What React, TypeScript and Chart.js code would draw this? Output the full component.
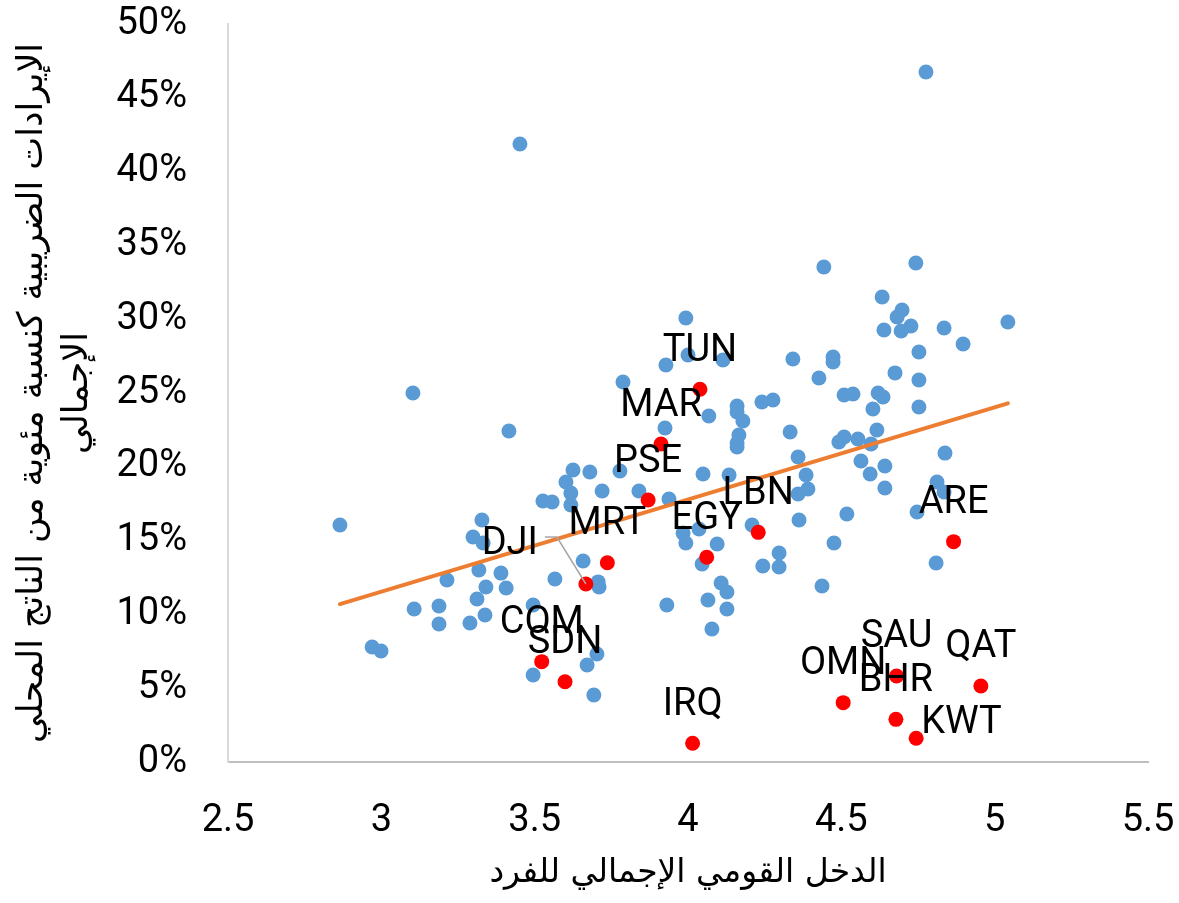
import React, { useEffect, useRef } from 'react';
import { Chart, registerables } from 'chart.js';

Chart.register(...registerables);

// Blue points: GNI per capita (log) vs tax revenue (% of GDP)
const blueX = [
  2.865, 2.970, 2.999, 3.103, 3.107, 3.188, 3.188, 3.214, 3.289, 3.299, 3.312, 3.318, 3.328, 3.332, 3.338, 3.341,
  3.390, 3.407, 3.416, 3.452, 3.495, 3.495, 3.527, 3.557, 3.566, 3.602, 3.618, 3.625, 3.618, 3.658, 3.671, 3.680,
  3.693, 3.703, 3.707, 3.710, 3.720,
  3.778, 3.788, 3.840, 3.925, 3.928, 3.938, 3.993, 4.000, 3.984, 3.993, 3.931, 4.036, 4.046, 4.049, 4.068, 4.065,
  4.078, 4.095, 4.108, 4.114, 4.127, 4.127, 4.134, 4.160, 4.160, 4.179, 4.166, 4.160, 4.160, 4.209, 4.241, 4.244,
  4.277, 4.297, 4.297,
  4.333, 4.342, 4.359, 4.362, 4.359, 4.385, 4.391, 4.427, 4.437, 4.443, 4.473, 4.473, 4.476, 4.509, 4.538, 4.492,
  4.509, 4.518, 4.554, 4.564, 4.597, 4.594, 4.603, 4.616, 4.620, 4.636, 4.633, 4.639, 4.642, 4.642, 4.675, 4.682,
  4.698, 4.695, 4.727, 4.743, 4.753, 4.753, 4.753, 4.747, 4.776, 4.812, 4.835, 4.809, 4.835, 4.838, 4.897, 5.043,
];
const blueY = [
  16.06, 7.79, 7.52, 25.0, 10.37, 10.57, 9.35, 12.33, 9.42, 15.24, 11.04, 13.01, 16.40, 14.84, 9.96, 11.86,
  12.80, 11.79, 22.43, 41.87, 10.64, 5.89, 17.68, 17.62, 12.40, 18.97, 18.22, 19.78, 17.41, 13.62, 6.57, 19.65,
  4.54, 7.32, 12.20, 11.86, 18.36,
  19.72, 25.75, 18.36, 22.63, 26.90, 17.82, 30.08, 27.57, 15.51, 14.84, 10.64, 15.79, 13.41, 19.51, 23.44, 10.98,
  9.01, 14.77, 12.13, 27.24, 11.52, 10.37, 19.44, 24.12, 23.71, 23.10, 22.15, 21.61, 21.34, 16.06, 24.39, 13.28,
  24.53, 14.16, 13.21,
  22.36, 27.30, 20.66, 16.40, 18.16, 19.44, 18.50, 26.02, 11.92, 33.54, 27.44, 27.10, 14.84, 24.86, 24.93, 21.68,
  22.02, 16.80, 21.88, 20.39, 21.54, 19.51, 23.92, 22.49, 25.00, 24.73, 31.50, 29.27, 20.05, 18.56, 26.36, 30.15,
  30.62, 29.20, 29.54, 33.81, 27.78, 25.88, 24.05, 16.94, 46.75, 18.97, 18.29, 13.48, 29.40, 20.93, 28.32, 29.81,
];

// Arab countries (red)
const redCodes = ['TUN', 'MAR', 'PSE', 'MRT', 'DJI', 'EGY', 'LBN', 'ARE', 'COM', 'SDN', 'IRQ', 'OMN', 'SAU', 'BHR', 'KWT', 'QAT'];
const redX = [4.039, 3.912, 3.870, 3.737, 3.667, 4.061, 4.229, 4.866, 3.523, 3.599, 4.015, 4.506, 4.680, 4.678, 4.744, 4.955];
const redY = [25.25, 21.54, 17.75, 13.50, 12.06, 13.87, 15.56, 14.93, 6.80, 5.44, 1.27, 4.02, 5.83, 2.89, 1.61, 5.15];

// Linear trend line end points
const trendX = [2.865, 5.043];
const trendY = [10.7, 24.3];

const xTitle = 'الدخل القومي الإجمالي للفرد';
const yTitle = ['الإيرادات الضريبية كنسبة مئوية من الناتج المحلي', 'الإجمالي'];

const LABEL_FONT = '38px Roboto';

const codeLabelPlugin = {
  id: 'codeLabels',
  afterDatasetsDraw(chart: any) {
    const meta = chart.getDatasetMeta(1);
    const ctx = chart.ctx as CanvasRenderingContext2D;
    ctx.save();
    ctx.font = LABEL_FONT;
    ctx.fillStyle = '#000000';
    ctx.textBaseline = 'middle';
    meta.data.forEach((pt: any, i: number) => {
      const code = redCodes[i];
      const x = pt.x;
      const y = pt.y;
      if (code === 'KWT') {
        ctx.textAlign = 'left';
        ctx.fillText(code, x + 5, y - 15);
      } else if (code === 'DJI') {
        ctx.strokeStyle = '#A6A6A6';
        ctx.lineWidth = 1.5;
        ctx.beginPath();
        ctx.moveTo(x - 41, y - 47);
        ctx.lineTo(x - 29, y - 47);
        ctx.lineTo(x, y);
        ctx.stroke();
        ctx.textAlign = 'right';
        ctx.fillText(code, x - 48, y - 39);
      } else {
        ctx.textAlign = 'center';
        ctx.fillText(code, x, y - 38);
      }
    });
    ctx.restore();
  },
};

export default function App() {
  const canvasRef = useRef<HTMLCanvasElement | null>(null);

  useEffect(() => {
    const canvas = canvasRef.current;
    if (!canvas) return;
    const chart = new Chart(canvas, {
      type: 'scatter',
      data: {
        datasets: [
          {
            label: 'countries',
            data: blueX.map((x, i) => ({ x, y: blueY[i] })),
            backgroundColor: '#5B9BD5',
            borderColor: '#5B9BD5',
            borderWidth: 0,
            pointRadius: 7.5,
            order: 3,
          },
          {
            label: 'arab',
            data: redX.map((x, i) => ({ x, y: redY[i] })),
            backgroundColor: '#FF0000',
            borderColor: '#FF0000',
            borderWidth: 0,
            pointRadius: 7.5,
            order: 1,
          },
          {
            label: 'trend',
            data: trendX.map((x, i) => ({ x, y: trendY[i] })),
            showLine: true,
            borderColor: '#ED7D31',
            backgroundColor: '#ED7D31',
            borderWidth: 4,
            borderCapStyle: 'round',
            pointRadius: 0,
            fill: false,
            order: 2,
          } as any,
        ],
      },
      options: {
        responsive: false,
        animation: false,
        events: [],
        layout: { padding: { top: 24, right: 31, left: 0, bottom: 0 } },
        plugins: { legend: { display: false }, tooltip: { enabled: false } },
        scales: {
          x: {
            type: 'linear',
            min: 2.5,
            max: 5.5,
            ticks: {
              stepSize: 0.5,
              padding: 37,
              autoSkip: false,
              maxRotation: 0,
              color: '#000000',
              font: { family: 'Roboto', size: 38 },
              callback: (v: any) => String(v),
            },
            grid: { display: false, drawTicks: false },
            border: { display: true, color: '#BFBFBF', width: 2 },
            title: {
              display: true,
              text: xTitle,
              color: '#000000',
              font: { family: '"DejaVu Sans"', size: 33 },
              padding: { top: 0, bottom: 10 },
            },
            afterFit: (s: any) => {
              s.height = 141;
              s.paddingLeft = 20;
              s.paddingRight = 20;
            },
          },
          y: {
            type: 'linear',
            min: 0,
            max: 50,
            ticks: {
              stepSize: 5,
              padding: 41,
              color: '#000000',
              font: { family: 'Roboto', size: 38 },
              callback: (v: any) => `${v}%`,
            },
            grid: { display: false, drawTicks: false },
            border: { display: true, color: '#D9D9D9', width: 2 },
            title: {
              display: true,
              text: yTitle,
              color: '#000000',
              font: { family: '"DejaVu Sans"', size: 35, lineHeight: 1.28 },
              padding: { top: 11, bottom: 0 },
            },
            afterFit: (s: any) => {
              s.width = 228;
              s.paddingTop = 18;
              s.paddingBottom = 18;
            },
          },
        },
      },
      plugins: [codeLabelPlugin],
    });
    return () => chart.destroy();
  }, []);

  return (
    <div style={{ position: 'fixed', left: 0, top: 0, width: 1179, height: 903, background: '#ffffff' }}>
      <canvas ref={canvasRef} width={1179} height={903} style={{ display: 'block' }} />
    </div>
  );
}
